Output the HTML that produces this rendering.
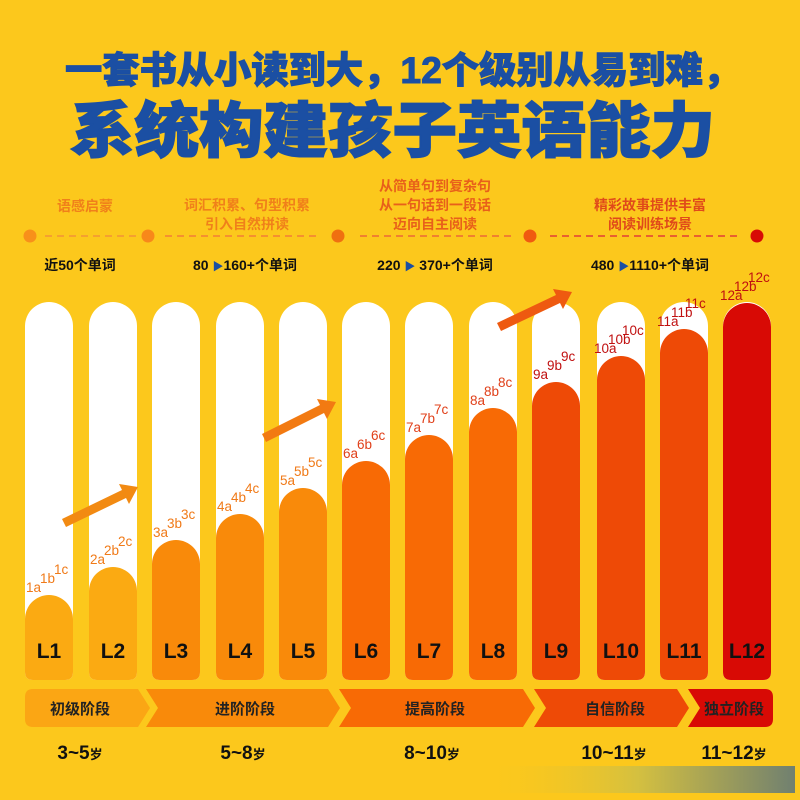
<!DOCTYPE html>
<html><head><meta charset="utf-8"><style>
body{margin:0;background:#FCC81C}
svg{display:block}
text{font-family:"Liberation Sans","Noto Sans CJK SC",sans-serif}
</style></head><body>
<svg width="800" height="800" viewBox="0 0 800 800">
<defs>
<linearGradient id="g" x1="0" x2="1"><stop offset="0" stop-color="#FCC81C" stop-opacity="0"/><stop offset="0.5" stop-color="#d4c040"/><stop offset="1" stop-color="#708070"/></linearGradient>
</defs>
<rect width="800" height="800" fill="#FCC81C"/>
<text x="65" y="83" textLength="675" lengthAdjust="spacingAndGlyphs" font-size="37" font-weight="900" fill="#1B4FA3" stroke="#1B4FA3" stroke-width="1">一套书从小读到大，12个级别从易到难，</text>
<text x="70" y="152" textLength="645" lengthAdjust="spacingAndGlyphs" font-size="60" font-weight="900" fill="#1B4FA3" stroke="#1B4FA3" stroke-width="1.5">系统构建孩子英语能力</text>

<g font-size="14" font-weight="bold" fill="#F0801A" text-anchor="middle">
<text x="85" y="211">语感启蒙</text>
<text x="247" y="210">词汇积累、句型积累</text>
<text x="247" y="229">引入自然拼读</text>
<text x="435" y="191" fill="#E8601A">从简单句到复杂句</text>
<text x="435" y="210" fill="#E8601A">从一句话到一段话</text>
<text x="435" y="229" fill="#E8601A">迈向自主阅读</text>
<text x="650" y="210" fill="#E04A1A">精彩故事提供丰富</text>
<text x="650" y="229" fill="#E04A1A">阅读训练场景</text>
</g>
<g stroke-dasharray="7,5" stroke-width="2">
<line x1="45" y1="236" x2="140" y2="236" stroke="#F5A030"/>
<line x1="165" y1="236" x2="320" y2="236" stroke="#F59030"/>
<line x1="360" y1="236" x2="515" y2="236" stroke="#F08030"/>
<line x1="550" y1="236" x2="740" y2="236" stroke="#E86030"/>
</g>
<circle cx="30" cy="236" r="6.5" fill="#F8901A"/>
<circle cx="148" cy="236" r="6.5" fill="#F8881A"/>
<circle cx="338" cy="236" r="6.5" fill="#F07010"/>
<circle cx="530" cy="236" r="6.5" fill="#F05A10"/>
<circle cx="757" cy="236" r="6.5" fill="#D80A05"/>
<g font-size="14" font-weight="bold" fill="#111" text-anchor="middle">
<text x="80" y="270">近50个单词</text>
<text x="245" y="270">80 <tspan fill="#1B4FA3" font-size="11">▶</tspan>160+个单词</text>
<text x="435" y="270">220 <tspan fill="#1B4FA3" font-size="11">▶</tspan> 370+个单词</text>
<text x="650" y="270">480 <tspan fill="#1B4FA3" font-size="11">▶</tspan>1110+个单词</text>
</g>

<g id="cols"></g>
<g font-size="21" font-weight="bold" fill="#111" text-anchor="middle" id="lbl"></g>
<g id="subs" font-size="13.5"></g>

<g>
<polygon points="62,519 122,490 119,484 138,487 129,504 126,498 66,527" fill="#F28A12"/>
<polygon points="262,434 320,405 317,399 336,402 327,419 324,413 266,442" fill="#F27A12"/>
<polygon points="497,323 556,295 553,289 572,292 563,309 560,303 501,331" fill="#EE5A10"/>
</g>

<path d="M33,689 H138 L150,708 L138,727 H33 Q25,727 25,719 V697 Q25,689 33,689Z" fill="#FBA614"/>
<path d="M146,689 H328 L340,708 L328,727 H146 L158,708Z" fill="#F98A0A"/>
<path d="M339,689 H523 L535,708 L523,727 H339 L351,708Z" fill="#F86A05"/>
<path d="M534,689 H677 L689,708 L677,727 H534 L546,708Z" fill="#EE4A06"/>
<path d="M688,689 H765 Q773,689 773,697 V719 Q773,727 765,727 H688 L700,708Z" fill="#D80A05"/>
<g font-size="15" font-weight="bold" fill="#222" text-anchor="middle">
<text x="80" y="714">初级阶段</text>
<text x="245" y="714">进阶阶段</text>
<text x="435" y="714">提高阶段</text>
<text x="615" y="714">自信阶段</text>
<text x="734" y="714">独立阶段</text>
</g>
<g font-size="19" font-weight="bold" fill="#111" text-anchor="middle">
<text x="80" y="759">3~5<tspan font-size="13">岁</tspan></text>
<text x="243" y="759">5~8<tspan font-size="13">岁</tspan></text>
<text x="432" y="759">8~10<tspan font-size="13">岁</tspan></text>
<text x="614" y="759">10~11<tspan font-size="13">岁</tspan></text>
<text x="734" y="759">11~12<tspan font-size="13">岁</tspan></text>
</g>
<rect x="480" y="766" width="315" height="27" fill="url(#g)"/>
</svg>
<script>
const NS="http://www.w3.org/2000/svg";
const xs=[25,89,152,216,279,342,405,469,532,597,660,723];
const tops=[595,567,540,514,488,461,435,408,382,356,329,303];
const cols=["#FBAA12","#FBAA12","#F98A0A","#F98A0A","#F98A0A","#F86A05","#F86A05","#F86A05","#EE4A06","#EE4A06","#EE4A06","#D80A05"];
const g=document.getElementById("cols"),l=document.getElementById("lbl"),s=document.getElementById("subs");
function el(t,a,p){const e=document.createElementNS(NS,t);for(const k in a)e.setAttribute(k,a[k]);p.appendChild(e);return e;}
xs.forEach((x,i)=>{
 const w=48,b=680,r=24;
 el("path",{d:`M${x},${b-8} V${302+r} A${r},${r} 0 0 1 ${x+w},${302+r} V${b-8} Q${x+w},${b} ${x+w-8},${b} H${x+8} Q${x},${b} ${x},${b-8}Z`,fill:"#fff"},g);
 const t=tops[i];
 el("path",{d:`M${x},${b-8} V${t+r} A${r},${r} 0 0 1 ${x+w},${t+r} V${b-8} Q${x+w},${b} ${x+w-8},${b} H${x+8} Q${x},${b} ${x},${b-8}Z`,fill:cols[i]},g);
 const tx=el("text",{x:x+24,y:658},l);tx.textContent="L"+(i+1);
 const c=i<5?"#F07A18":(i<8?"#E0401A":"#C01010");
 const n=i+1;
 [["a",1,-3],["b",15,-12],["c",29,-21]].forEach(([k,dx,dy])=>{
  const e=el("text",{x:x+dx-(n>9?4:0),y:t+dy,fill:c},s);e.textContent=n+k;
 });
});
</script>
</body></html>
